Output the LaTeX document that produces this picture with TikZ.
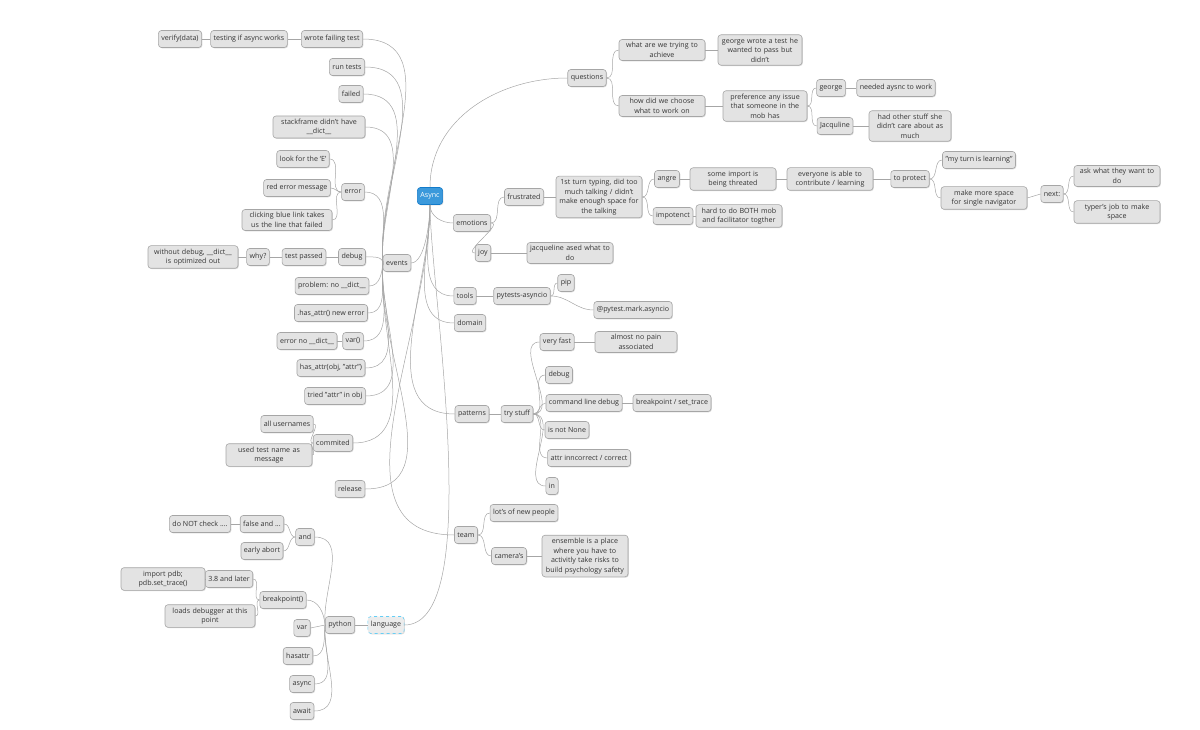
\documentclass[tikz,border=0pt]{standalone}
\usepackage{fontspec}
\setmainfont{Open Sans}
\usetikzlibrary{shadows}
\hyphenpenalty=10000
\begin{document}
\begin{tikzpicture}[x=1pt,y=-1pt,
 box/.style={draw=gray!70,fill=gray!22,rounded corners=3pt,line width=0.6pt,
   font=\fontsize{7.1}{9.5}\selectfont,text=black!80,inner sep=3pt,minimum height=17pt,align=center,
   drop shadow={shadow xshift=0.8pt,shadow yshift=-0.8pt,fill=gray!60}},
 wbox/.style={box,text width=#1},
 edge/.style={draw=gray!70,line width=0.5pt}]
\useasboundingbox (0,0) rectangle (1200,730);
% root
\node[box,fill=cyan!70!blue!80,draw=cyan!60!blue,text=white] (root) at (430,196) {Async};
% ---------- left: events
\node[box] (events) at (397,263) {events};
\node[box] (wft) at (332,39) {wrote failing test};
\node[box] (tia) at (249,39) {testing if async works};
\node[box] (vd) at (180,39) {verify(data)};
\node[box] (rt) at (347,67) {run tests};
\node[box] (fl) at (351,94) {failed};
\node[wbox=86pt] (sf) at (319,127) {stackframe didn't have\\ \_\_dict\_\_};
\node[box] (err) at (353,192) {error};
\node[box] (lfe) at (303,159) {look for the `E'};
\node[box] (rem) at (297,188) {red error message};
\node[wbox=84pt] (cbl) at (287,220) {clicking blue link takes\\ us the line that failed};
\node[box] (dbg) at (352,257) {debug};
\node[box] (tp) at (304,257) {test passed};
\node[box] (why) at (258,257) {why?};
\node[wbox=84pt] (wod) at (193,257) {without debug, \_\_dict\_\_\\ is optimized out};
\node[box] (pnd) at (332,286) {problem: no \_\_dict\_\_};
\node[box] (hne) at (331,313) {.has\_attr() new error};
\node[box] (var1) at (353,341) {var()};
\node[box] (end) at (307,341) {error no \_\_dict\_\_};
\node[box] (hao) at (331,368) {has\_attr(obj, "attr")};
\node[box] (tai) at (335,396) {tried "attr" in obj};
\node[box] (com) at (333,443) {commited};
\node[box] (au) at (287,424) {all usernames};
\node[wbox=80pt] (utn) at (269,455) {used test name as\\ message};
\node[box] (rel) at (350,489) {release};
% ---------- left: language
\node[box,draw=cyan!60,dashed,fill=gray!15] (lang) at (386,625) {language};
\node[box] (py) at (340,625) {python};
\node[box] (and) at (305,537) {and};
\node[box] (fa) at (262,524) {false and ...};
\node[box] (dnc) at (200,524) {do NOT check ....};
\node[box] (ea) at (262,551) {early abort};
\node[box] (bp) at (283,600) {breakpoint()};
\node[box] (l38) at (229,579) {3.8 and later};
\node[wbox=78pt] (ipdb) at (163,579) {import pdb;\\ pdb.set\_trace()};
\node[wbox=84pt] (ldb) at (210,616) {loads debugger at this\\ point};
\node[box] (var2) at (302,628) {var};
\node[box] (hasa) at (298,656) {hasattr};
\node[box] (asy) at (302,684) {async};
\node[box] (awa) at (302,711) {await};
% ---------- right: questions
\node[box] (q) at (587,78) {questions};
\node[wbox=80pt] (wat) at (662,50) {what are we trying to\\ achieve};
\node[wbox=78pt] (gw) at (760,50) {george wrote a test he\\ wanted to pass but\\ didn't};
\node[wbox=80pt] (hdw) at (662,106) {how did we choose\\ what to work on};
\node[wbox=78pt] (pai) at (765,106) {preference any issue\\ that someone in the\\ mob has};
\node[box] (geo) at (831,88) {george};
\node[box] (nat) at (896,88) {needed aysnc to work};
\node[box] (jac) at (835,126) {Jacquline};
\node[wbox=76pt] (hos) at (910,126) {had other stuff she\\ didn't care about as\\ much};
% emotions
\node[box] (emo) at (472,223) {emotions};
\node[box] (fru) at (524,197) {frustrated};
\node[wbox=80pt] (ftt) at (599,197) {1st turn typing, did too\\ much talking / didn't\\ make enough space for\\ the talking};
\node[box] (ang) at (667,179) {angre};
\node[wbox=80pt] (sii) at (733,179) {some import is being threated};
\node[wbox=80pt] (eia) at (830,179) {everyone is able to contribute / learning};
\node[box] (tpr) at (910,179) {to protect};
\node[box] (mtl) at (979,160) {"my turn is learning"};
\node[wbox=80pt] (mms) at (984,198) {make more space for single navigator};
\node[box] (nxt) at (1052,194) {next:};
\node[wbox=80pt] (awt) at (1117,176) {ask what they want to\\ do};
\node[wbox=80pt] (tjm) at (1117,212) {typer's job to make\\ space};
\node[box] (imp) at (673,216) {impotenct};
\node[wbox=80pt] (htd) at (739,216) {hard to do BOTH mob and facilitator togther};
\node[box] (joy) at (483,253) {joy};
\node[wbox=80pt] (jaw) at (570,253) {jacqueline ased what to\\ do};
% tools
\node[box] (tools) at (465,296) {tools};
\node[box] (pya) at (522,296) {pytests-asyncio};
\node[box] (pip) at (566,283) {pip};
\node[box] (pma) at (633,310) {@pytest.mark.asyncio};
\node[box] (dom) at (470,323) {domain};
% patterns
\node[box] (pat) at (472,414) {patterns};
\node[box] (ts) at (517,414) {try stuff};
\node[box] (vf) at (557,342) {very fast};
\node[wbox=76pt] (anp) at (636,342) {almost no pain associated};
\node[box] (dbg2) at (559,375) {debug};
\node[box] (cld) at (584,403) {command line debug};
\node[box] (bst) at (672,403) {breakpoint / set\_trace};
\node[box] (inn) at (567,430) {is not None};
\node[box] (aic) at (589,458) {attr inncorrect / correct};
\node[box] (in) at (552,486) {in};
% team
\node[box] (team) at (466,535) {team};
\node[box] (lnp) at (524,513) {lot's of new people};
\node[box] (cam) at (509,556) {camera's};
\node[wbox=80pt] (ens) at (585,556) {ensemble is a place where you have to activitly take risks to build psychology safety};
% ---------- edges
\begin{scope}[edge]
\draw (root.north) to[out=90,in=180] (q.west);
\foreach \c in {emo,tools,dom,pat,team} \draw (root.south) to[out=270,in=180] (\c.west);
\draw (root.south) to[out=270,in=0,looseness=0.6] (events.east);
\draw (root.south) to[out=270,in=0,looseness=0.5] (lang.east);
% events
\foreach \c in {wft,rt,fl,sf,err,dbg} \draw (events.west) to[out=95,in=0] (\c.east);
\foreach \c in {pnd,hne,var1,hao,tai,com,rel} \draw (events.west) to[out=265,in=0] (\c.east);
\draw (wft.west)--(tia.east); \draw (tia.west)--(vd.east);
\foreach \c in {lfe,rem,cbl} \draw (err.west) to[out=180,in=0] (\c.east);
\draw (dbg.west)--(tp.east); \draw (tp.west)--(why.east); \draw (why.west)--(wod.east);
\draw (var1.west)--(end.east);
\foreach \c in {au,utn} \draw (com.west) to[out=180,in=0] (\c.east);
% language
\draw (lang.west)--(py.east);
\foreach \c in {and,bp} \draw (py.west) to[out=95,in=0] (\c.east);
\draw (py.west)--(var2.east);
\foreach \c in {hasa,asy,awa} \draw (py.west) to[out=265,in=0] (\c.east);
\foreach \c in {fa,ea} \draw (and.west) to[out=180,in=0] (\c.east);
\draw (fa.west)--(dnc.east);
\foreach \c in {l38,ldb} \draw (bp.west) to[out=180,in=0] (\c.east);
\draw (l38.west)--(ipdb.east);
% questions
\foreach \c in {wat,hdw} \draw (q.east) to[out=0,in=180] (\c.west);
\draw (wat.east)--(gw.west); \draw (hdw.east)--(pai.west);
\foreach \c in {geo,jac} \draw (pai.east) to[out=0,in=180] (\c.west);
\draw (geo.east)--(nat.west); \draw (jac.east)--(hos.west);
% emotions
\foreach \c in {fru,joy} \draw (emo.east) to[out=0,in=180] (\c.west);
\draw (fru.east)--(ftt.west);
\foreach \c in {ang,imp} \draw (ftt.east) to[out=0,in=180] (\c.west);
\draw (ang.east)--(sii.west); \draw (sii.east)--(eia.west); \draw (eia.east)--(tpr.west);
\foreach \c in {mtl,mms} \draw (tpr.east) to[out=0,in=180] (\c.west);
\draw (mms.east)--(nxt.west);
\foreach \c in {awt,tjm} \draw (nxt.east) to[out=0,in=180] (\c.west);
\draw (imp.east)--(htd.west); \draw (joy.east)--(jaw.west);
% tools
\draw (tools.east)--(pya.west);
\foreach \c in {pip,pma} \draw (pya.east) to[out=0,in=180] (\c.west);
% patterns
\draw (pat.east)--(ts.west);
\foreach \c in {vf,dbg2,cld,inn,aic,in} \draw (ts.east) to[out=0,in=180] (\c.west);
\draw (vf.east)--(anp.west); \draw (cld.east)--(bst.west);
% team
\foreach \c in {lnp,cam} \draw (team.east) to[out=0,in=180] (\c.west);
\draw (cam.east)--(ens.west);
\end{scope}
\end{tikzpicture}
\end{document}
